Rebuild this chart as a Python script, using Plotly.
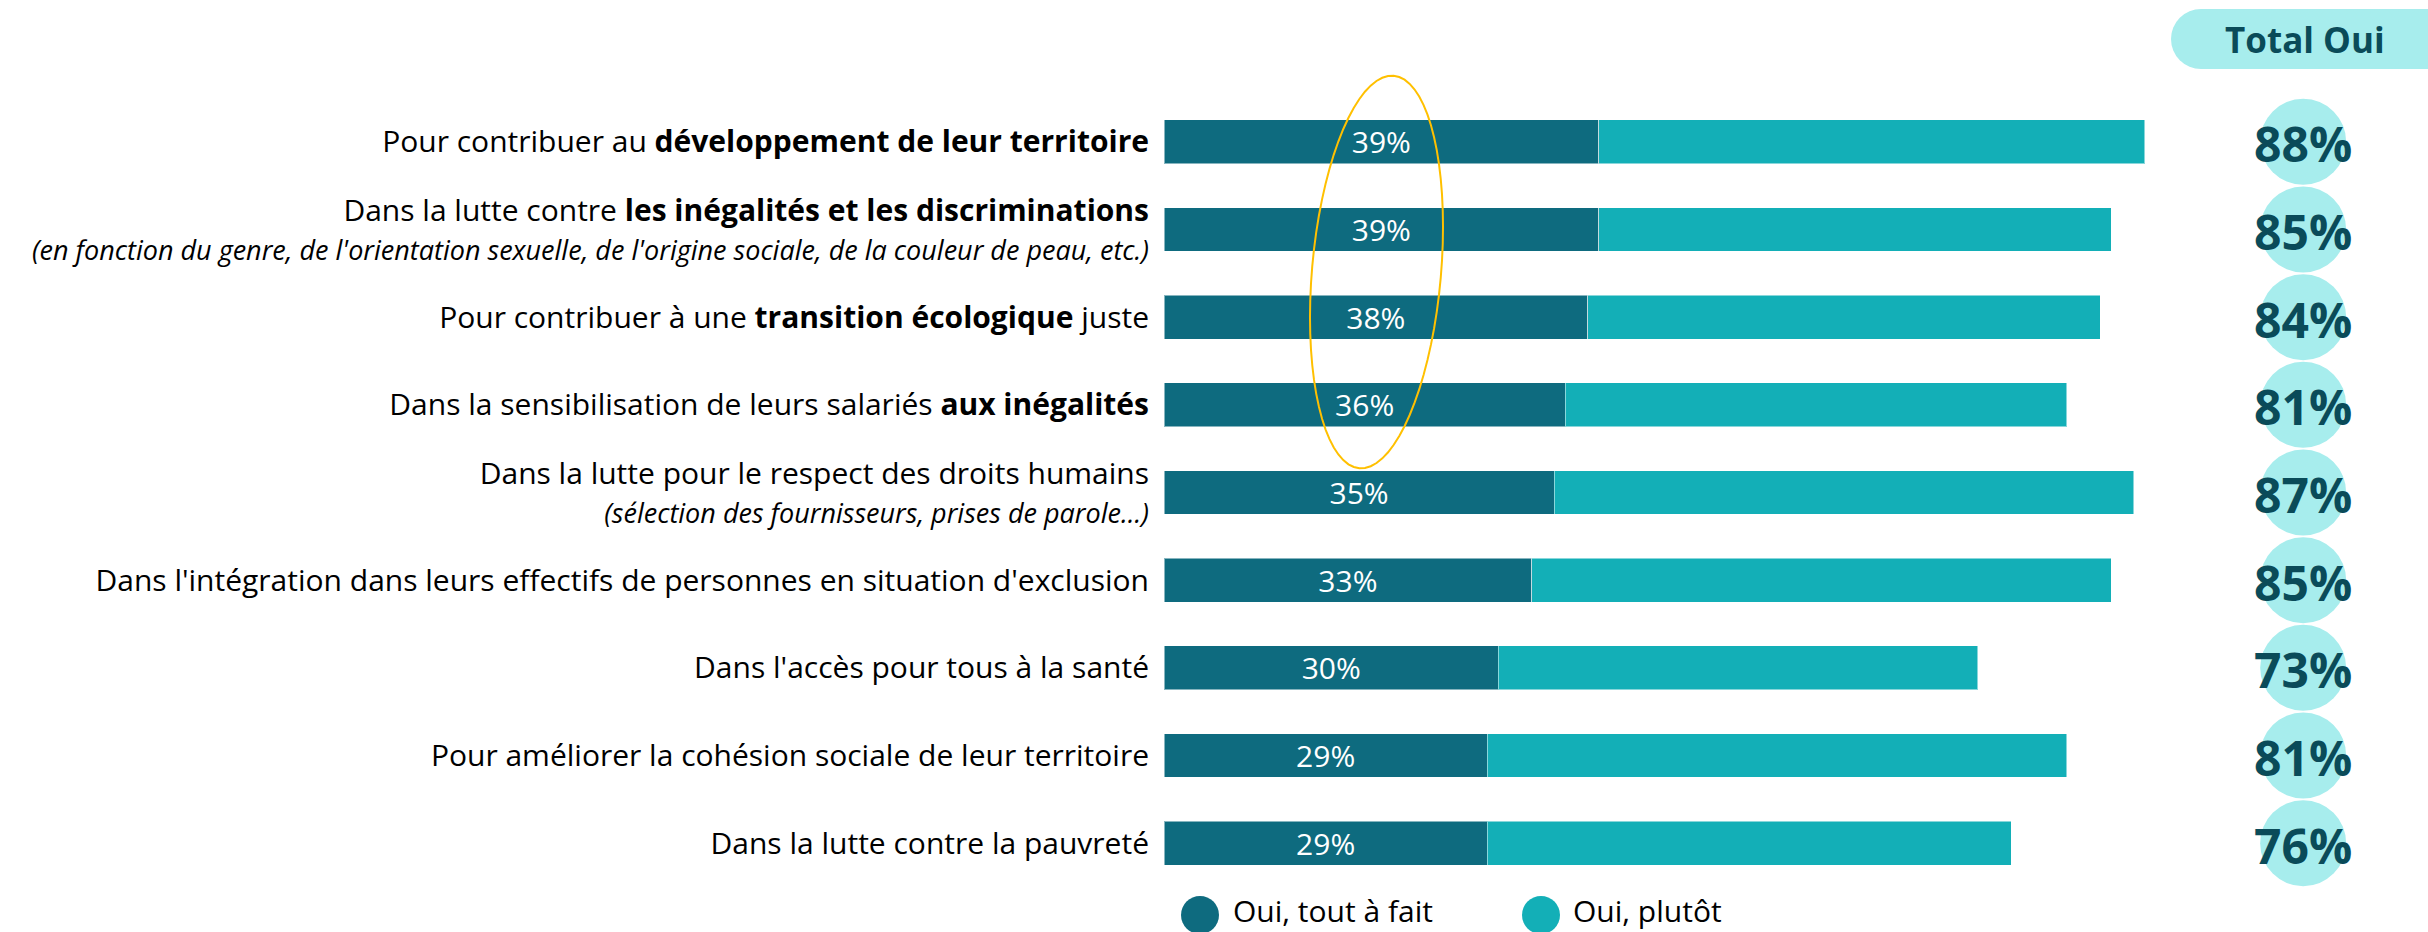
import math
import plotly.graph_objects as go

# ---------------- data ----------------
categories = [
    "Pour contribuer au <b>développement de leur territoire</b>",
    "Dans la lutte contre <b>les inégalités et les discriminations</b><br><i><span style='font-size:27px'>(en fonction du genre, de l'orientation sexuelle, de l'origine sociale, de la couleur de peau, etc.)</span></i>",
    "Pour contribuer à une <b>transition écologique</b> juste",
    "Dans la sensibilisation de leurs salariés <b>aux inégalités</b>",
    "Dans la lutte pour le respect des droits humains<br><i><span style='font-size:27px'>(sélection des fournisseurs, prises de parole...)</span></i>",
    "Dans l'intégration dans leurs effectifs de personnes en situation d'exclusion",
    "Dans l'accès pour tous à la santé",
    "Pour améliorer la cohésion sociale de leur territoire",
    "Dans la lutte contre la pauvreté",
]
tout_a_fait = [39, 39, 38, 36, 35, 33, 30, 29, 29]
total_oui = [88, 85, 84, 81, 87, 85, 73, 81, 76]
plutot = [t - a for t, a in zip(total_oui, tout_a_fait)]
series_names = ["Oui, tout à fait", "Oui, plutôt"]
total_header = "Total Oui"

# ---------------- style ----------------
W, H = 2428, 932
DARK = "#0E6B7F"
LIGHT = "#13AFB7"
PALE = "#A7EDED"
TOTAL_TXT = "#0A4B59"
FONT = "Open Sans"

L, R, T, B = 1164, 0, 98, 45
PW, PH = W - L - R, H - T - B
XMAX = 113.4
TOTAL_X = 102.2


def px_to_paper(x, y):
    return (x - L) / PW, (H - B - y) / PH


fig = go.Figure()
fig.add_trace(go.Bar(
    y=categories, x=tout_a_fait, orientation="h", name=series_names[0],
    marker=dict(color=DARK, line=dict(color="rgba(255,255,255,0.5)", width=1)),
    text=[f"{v}%" for v in tout_a_fait], textposition="inside",
    insidetextanchor="middle", textangle=0, constraintext="none",
    textfont=dict(family=FONT, size=30, color="white"),
    showlegend=False, hoverinfo="skip",
))
fig.add_trace(go.Bar(
    y=categories, x=plutot, orientation="h", name=series_names[1],
    marker=dict(color=LIGHT, line=dict(color="rgba(255,255,255,0.5)", width=1)),
    showlegend=False, hoverinfo="skip",
))
fig.add_trace(go.Scatter(
    y=categories, x=[TOTAL_X] * len(categories), mode="markers",
    marker=dict(size=86, color=PALE, line=dict(width=0)),
    cliponaxis=False, showlegend=False, hoverinfo="skip",
))

annotations = []
for cat, v in zip(categories, total_oui):
    annotations.append(dict(x=TOTAL_X, y=cat, xref="x", yref="y", text=f"<b>{v}%</b>",
                            showarrow=False, xanchor="center", yanchor="middle", yshift=-2,
                            font=dict(family=FONT, size=48, color=TOTAL_TXT)))

shapes = []
# "Total Oui" pill header
x0, y0 = px_to_paper(2171, 69)
x1, y1 = px_to_paper(2231, 9)
shapes.append(dict(type="circle", xref="paper", yref="paper", x0=x0, y0=y0, x1=x1, y1=y1,
                   fillcolor=PALE, line=dict(width=0), layer="below"))
x0, y0 = px_to_paper(2201, 69)
x1, y1 = px_to_paper(2440, 9)
shapes.append(dict(type="rect", xref="paper", yref="paper", x0=x0, y0=y0, x1=x1, y1=y1,
                   fillcolor=PALE, line=dict(width=0), layer="below"))

# yellow highlight ellipse (tilted)
cx, cy, rx, ry, th = 1376.5, 272, 64.5, 197, math.radians(5)
pts = []
for k in range(0, 73):
    t = 2 * math.pi * k / 72
    xp, yp = rx * math.cos(t), ry * math.sin(t)
    X = cx + xp * math.cos(th) - yp * math.sin(th)
    Y = cy + xp * math.sin(th) + yp * math.cos(th)
    pts.append(px_to_paper(X, Y))
path = "M " + " L ".join(f"{a:.5f},{b:.5f}" for a, b in pts) + " Z"
shapes.append(dict(type="path", xref="paper", yref="paper", path=path,
                   line=dict(color="#FFC000", width=2), layer="above"))

# legend markers
for (mx, col, name, tx) in [(1200, DARK, series_names[0], 1231), (1541, LIGHT, series_names[1], 1571)]:
    a0, b0 = px_to_paper(mx - 19, 934)
    a1, b1 = px_to_paper(mx + 19, 896)
    shapes.append(dict(type="circle", xref="paper", yref="paper", x0=a0, y0=b0, x1=a1, y1=b1,
                       fillcolor=col, line=dict(width=0)))
    ax, ay = px_to_paper(tx, 910)
    annotations.append(dict(xref="paper", yref="paper", x=ax, y=ay, text=name, showarrow=False,
                            xanchor="left", yanchor="middle",
                            font=dict(family=FONT, size=30, color="black")))

hx, hy = px_to_paper(2305, 39)
annotations.append(dict(xref="paper", yref="paper", x=hx, y=hy, text=f"<b>{total_header}</b>",
                        showarrow=False, xanchor="center", yanchor="middle",
                        font=dict(family=FONT, size=35, color=TOTAL_TXT)))

fig.update_layout(
    width=W, height=H,
    margin=dict(l=L, r=R, t=T, b=B, pad=0),
    barmode="stack", bargap=0.5,
    plot_bgcolor="white", paper_bgcolor="white",
    font=dict(family=FONT, size=30, color="black"),
    xaxis=dict(range=[0, XMAX], visible=False, fixedrange=True),
    yaxis=dict(range=[len(categories) - 0.5, -0.5], autorange=False,
               showgrid=False, zeroline=False, showline=False,
               ticks="", ticklabelstandoff=14, automargin=False, fixedrange=True,
               tickfont=dict(family=FONT, size=30, color="black")),
    shapes=shapes, annotations=annotations,
)

fig.write_html(
    "out.html",
    config={"displayModeBar": False},
    post_script="document.body.style.margin='0';document.body.style.overflow='hidden';",
)
